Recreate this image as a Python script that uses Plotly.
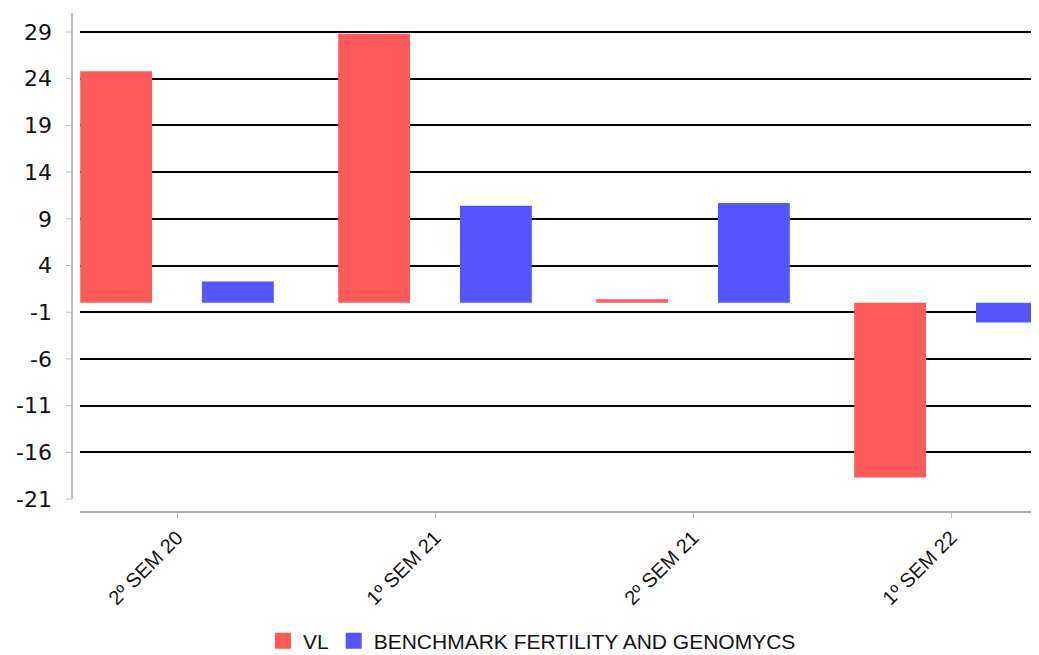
import plotly.graph_objects as go

categories = ["2º SEM 20", "1º SEM 21", "2º SEM 21", "1º SEM 22"]
vl_values = [24.8, 28.8, 0.4, -18.7]
bench_values = [2.3, 10.4, 10.7, -2.1]
y_ticks = [29, 24, 19, 14, 9, 4, -1, -6, -11, -16, -21]
grid_ticks = [29, 24, 19, 14, 9, 4, -1, -6, -11, -16]
series_names = ["VL", "BENCHMARK FERTILITY AND GENOMYCS"]
series_colors = ["rgb(255,90,90)", "rgb(85,85,255)"]

y_range = [-22.28, 31.03]
x_range = [-0.376, 3.341]

fig = go.Figure()
for name, vals, col in zip(series_names, [vl_values, bench_values], series_colors):
    fig.add_trace(go.Bar(x=categories, y=vals, name=name, showlegend=False,
                         marker=dict(color=col, line=dict(width=0))))
# legend entries with larger square swatches
for name, col in zip(series_names, series_colors):
    fig.add_trace(go.Scatter(x=[None], y=[None], mode="markers", name=name,
                             marker=dict(symbol="square", size=20, color=col)))
# helper invisible trace on the grid axis
fig.add_trace(go.Scatter(x=[categories[0]], y=[0], yaxis="y2", mode="markers",
                         marker=dict(opacity=0), showlegend=False, hoverinfo="skip"))

# page body has an 8px offset
OFF = 8
W, H = 1039 - OFF, 655 - OFF
left, top = 80 - OFF, 13 - OFF
plot_bottom = 511 - OFF
bottom = H - plot_bottom
pw = 1039 - 80
right = W - left - pw
ph = plot_bottom - top

fig.update_layout(
    width=W, height=H,
    margin=dict(l=left, r=right, t=top, b=bottom, pad=0, autoexpand=False),
    paper_bgcolor="white", plot_bgcolor="white",
    barmode="group", bargap=0.056, bargroupgap=0.41,
    font=dict(family="Liberation Sans, Arial, sans-serif", color="#111"),
    xaxis=dict(type="category", range=x_range, showgrid=False,
               showline=True, linecolor="#aaaaaa", linewidth=2,
               ticks="outside", ticklen=5, tickcolor="#bbbbbb",
               tickangle=-45, tickfont=dict(size=20, color="#111"),
               zeroline=False, automargin=False),
    yaxis=dict(range=y_range, tickvals=y_ticks, ticktext=[str(v) for v in y_ticks],
               showgrid=False, zeroline=False, showline=False, ticks="",
               tickfont=dict(size=22, color="#111", family="DejaVu Sans, Verdana, sans-serif"),
               ticklabelstandoff=27, automargin=False),
    yaxis2=dict(range=y_range, overlaying="y", tickvals=grid_ticks,
                showgrid=True, gridcolor="black", gridwidth=2,
                showticklabels=False, zeroline=False, showline=False, ticks=""),
    legend=dict(orientation="h", x=(532 - 80) / pw, xanchor="center",
                y=-(641 - 511) / ph, yanchor="middle",
                font=dict(size=21, color="#111"), traceorder="normal",
                itemwidth=30),
    showlegend=True,
)

# y axis line offset to the left of the plot area
ax_x = (72 - 80) / pw
fig.add_shape(type="line", xref="paper", yref="y", x0=ax_x, x1=ax_x,
              y0=y_ticks[-1], y1=y_range[1], line=dict(color="#bbbbbb", width=2))
for v in y_ticks:
    fig.add_shape(type="line", xref="paper", yref="y", x0=(66 - 80) / pw, x1=ax_x,
                  y0=v, y1=v, line=dict(color="#bbbbbb", width=1))

fig.write_html("out.html")
